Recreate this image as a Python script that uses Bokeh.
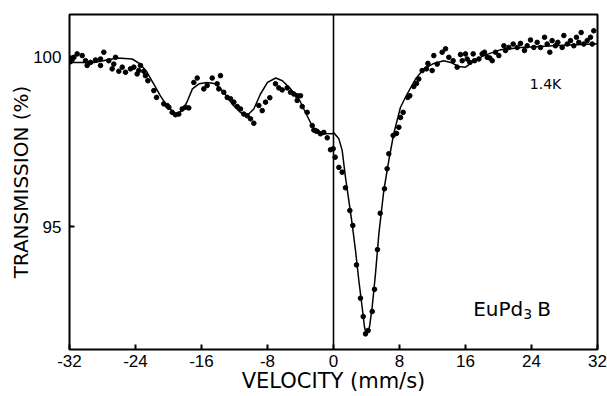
from bokeh.plotting import figure
from bokeh.models import FixedTicker, Label, Range1d, Span
from bokeh.embed import file_html
from bokeh.resources import INLINE

# measured points: velocity (mm/s) and transmission (%)
vel_pts = [-31.9, -31.88, -31.7, -31.47, -31.07, -30.46, -30.06, -29.86, -29.45, -28.85,
           -28.24, -28.24, -27.84, -27.24, -26.83, -26.63, -26.42, -26.02, -25.61, -25.21,
           -24.61, -24.20, -23.80, -23.60, -23.39, -22.99, -22.79, -22.50, -21.78, -21.45,
           -20.57, -20.16, -19.96, -19.55, -19.15, -18.75, -18.34, -17.94, -17.54, -16.93,
           -16.52, -15.72, -15.31, -14.70, -14.10, -13.90, -13.70, -13.30, -12.88, -12.48,
           -12.08, -11.67, -11.27, -10.87, -10.46, -10.06, -9.66, -9.05, -8.64, -8.24,
           -7.72, -7.03, -6.63, -6.22, -5.61, -5.21, -4.81, -4.40, -4.40, -4.00,
           -3.79, -3.19, -2.58, -2.38, -2.18, -1.98, -1.58, -1.18, -0.76, -0.36,
           -0.04, 0.20, 0.65, 1.05, 1.45, 1.98, 2.34, 2.79, 3.27, 3.60,
           3.88, 4.20, 4.69, 4.97, 5.33, 5.66, 6.18, 6.50, 6.70, 7.23,
           7.64, 7.92, 8.12, 8.44, 9.00, 9.25, 9.73, 10.06, 10.34, 10.75,
           11.27, 11.44, 11.96, 12.16, 12.57, 13.17, 13.58, 13.98, 14.50, 14.99,
           15.39, 15.60, 16.00, 16.20, 16.53, 16.93, 17.09, 17.62, 18.02, 18.30,
           18.63, 18.95, 19.24, 19.64, 20.04, 20.65, 20.85, 21.25, 21.78, 22.27,
           22.67, 23.15, 23.48, 23.88, 24.28, 24.69, 25.09, 25.58, 25.90, 26.22,
           26.50, 26.90, 27.19, 27.72, 27.92, 28.33, 28.73, 29.13, 29.45, 29.73,
           30.02, 30.34, 30.75, 31.15, 31.36, 31.55]
trans_pts = [99.85, 99.93, 99.90, 99.98, 100.08, 100.03, 99.88, 99.74, 99.83, 99.90,
             99.74, 99.93, 100.13, 99.88, 99.64, 99.78, 99.98, 99.57, 99.69, 99.54,
             99.64, 99.69, 99.49, 99.59, 99.74, 99.57, 99.44, 99.29, 99.00, 98.80,
             98.61, 98.56, 98.51, 98.36, 98.29, 98.31, 98.46, 98.51, 98.49, 99.24,
             99.37, 99.05, 99.15, 99.37, 99.20, 99.05, 99.44, 98.95, 98.80, 98.76,
             98.66, 98.53, 98.46, 98.31, 98.26, 98.17, 98.04, 98.56, 98.41, 98.66,
             98.79, 99.20, 99.08, 99.02, 99.08, 98.95, 98.90, 98.85, 98.71, 98.85,
             98.53, 98.36, 97.97, 97.84, 97.82, 97.80, 97.73, 97.77, 97.61, 97.26,
             97.29, 97.04, 96.74, 96.60, 96.14, 95.47, 95.03, 93.87, 92.89, 92.35,
             91.84, 91.94, 92.50, 93.15, 94.32, 95.39, 96.11, 96.70, 97.14, 97.68,
             97.74, 97.92, 98.21, 98.36, 98.80, 98.85, 99.12, 99.21, 99.34, 99.59,
             99.64, 99.80, 99.59, 100.03, 99.78, 100.13, 100.23, 99.98, 99.88, 99.69,
             100.06, 99.88, 100.08, 99.93, 99.83, 100.08, 99.88, 99.93, 100.08, 100.13,
             99.98, 99.96, 99.88, 100.13, 100.03, 100.32, 100.18, 100.27, 100.37, 100.27,
             100.39, 100.18, 100.32, 100.49, 100.27, 100.42, 100.27, 100.57, 100.37, 100.13,
             100.47, 100.32, 100.42, 100.27, 100.62, 100.37, 100.47, 100.32, 100.57, 100.42,
             100.71, 100.37, 100.47, 100.57, 100.37, 100.76]

# fitted curve
vel_fit = [-32, -29, -26.2, -24.4, -23.4, -22.6, -21.8, -21.0, -20.2, -19.15,
           -18.3, -17.7, -17.1, -16.3, -15.3, -14.3, -13.3, -12.3, -11.3, -10.5,
           -9.66, -8.85, -8.0, -7.0, -6.2, -5.2, -4.2, -3.2, -2.4, -1.2,
           -0.16, 0.04, 0.65, 1.05, 1.45, 1.86, 2.26, 2.67, 3.07, 3.47,
           3.75, 3.96, 4.15, 4.36, 4.69, 5.09, 5.5, 6.1, 6.7, 7.3,
           8.12, 8.93, 9.94, 10.95, 12.16, 13.37, 14.2, 15.2, 16.0, 16.8,
           18.2, 20.2, 22.7, 26.7, 32]
trans_fit = [99.83, 99.83, 99.96, 99.93, 99.78, 99.54, 99.20, 98.85, 98.56, 98.31,
             98.41, 98.70, 99.05, 99.20, 99.24, 99.20, 98.95, 98.61, 98.36, 98.26,
             98.46, 98.90, 99.24, 99.37, 99.29, 99.05, 98.76, 98.26, 97.87, 97.74,
             97.73, 97.76, 97.58, 97.24, 96.45, 95.76, 95.08, 94.29, 93.41, 92.63,
             92.05, 91.84, 91.88, 92.04, 92.63, 93.61, 94.79, 96.06, 96.94, 97.73,
             98.51, 98.90, 99.34, 99.64, 99.80, 99.88, 99.83, 99.71, 99.69, 99.83,
             100.03, 100.20, 100.27, 100.32, 100.38]

x_ticks = [-32, -24, -16, -8, 0, 8, 16, 24, 32]
x_tick_labels = ["-32", "-24", "-16", "-8", "0", "8", "16", "24", "32"]
y_ticks = [95, 100]

TITLE_FONT = "DejaVu Sans"
TICK_FONT = "Liberation Sans"

p = figure(width=607, height=396, output_backend="svg", toolbar_location=None,
           x_range=Range1d(-32, 32), y_range=Range1d(91.38, 101.24),
           min_border_left=69, min_border_right=10, min_border_top=14,
           min_border_bottom=47)
p.grid.visible = False
p.background_fill_color = "white"
p.border_fill_color = "white"
p.outline_line_color = "black"
p.outline_line_width = 2

p.xaxis.ticker = FixedTicker(ticks=x_ticks)
p.xaxis.major_label_overrides = {t: l for t, l in zip(x_ticks, x_tick_labels)}
p.yaxis.ticker = FixedTicker(ticks=y_ticks)
for ax in (p.xaxis[0], p.yaxis[0]):
    ax.axis_line_color = None
    ax.major_tick_in = 5
    ax.major_tick_out = 0
    ax.major_tick_line_color = "black"
    ax.major_tick_line_width = 2
    ax.minor_tick_line_color = None
    ax.major_label_text_font = TICK_FONT
    ax.major_label_text_font_size = "17px"
    ax.major_label_text_color = "black"
    ax.axis_label_text_font = TITLE_FONT
    ax.axis_label_text_font_style = "normal"
    ax.axis_label_text_color = "black"

p.xaxis.axis_label = "VELOCITY (mm/s)"
p.xaxis.axis_label_text_font_size = "21px"
p.xaxis.major_label_standoff = 5
p.xaxis.axis_label_standoff = -1
p.yaxis.axis_label = "TRANSMISSION (%)"
p.yaxis.axis_label_text_font_size = "20px"
p.yaxis.major_label_standoff = 8
p.yaxis.axis_label_standoff = -3

p.add_layout(Span(location=0, dimension="height", line_color="black", line_width=1.6))

p.line(vel_fit, trans_fit, line_color="black", line_width=1.5)
p.scatter(vel_pts, trans_pts, size=4.6, fill_color="black", line_color="black")

p.add_layout(Label(x=23.8, y=99.18, text="1.4K", text_font=TITLE_FONT, text_font_size="14px",
                   text_color="black", text_baseline="alphabetic"))
p.add_layout(Label(x=16.93, y=92.56, text="EuPd", text_font=TITLE_FONT, text_font_size="20px",
                   text_color="black", text_baseline="alphabetic"))
p.add_layout(Label(x=16.93, y=92.56, x_offset=50, y_offset=-5, text="3", text_font=TITLE_FONT,
                   text_font_size="14px", text_color="black", text_baseline="alphabetic"))
p.add_layout(Label(x=16.93, y=92.56, x_offset=64, text="B", text_font=TITLE_FONT,
                   text_font_size="20px", text_color="black", text_baseline="alphabetic"))

open("out.html", "w").write(file_html(p, INLINE))
